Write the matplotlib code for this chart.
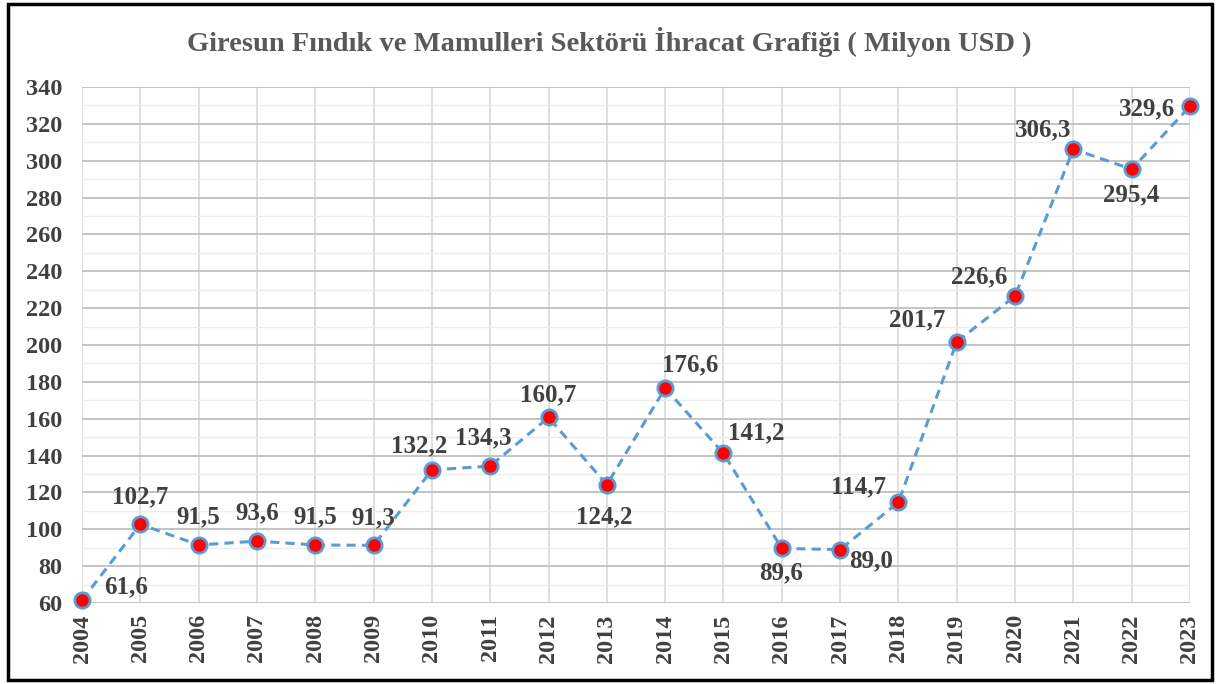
import matplotlib.pyplot as plt
from matplotlib.patches import Rectangle
from matplotlib.ticker import MultipleLocator

# Veriler
yillar = list(range(2004, 2024))
ihracat = [61.6, 102.7, 91.5, 93.6, 91.5, 91.3, 132.2, 134.3, 160.7, 124.2,
           176.6, 141.2, 89.6, 89.0, 114.7, 201.7, 226.6, 306.3, 295.4, 329.6]
etiketler = ['61,6', '102,7', '91,5', '93,6', '91,5', '91,3', '132,2', '134,3',
             '160,7', '124,2', '176,6', '141,2', '89,6', '89,0', '114,7',
             '201,7', '226,6', '306,3', '295,4', '329,6']

# Etiket kaydirmalari (piksel)
kaydirma = [(44, 13), (0, 28), (0, 28), (0, 28), (0, 28), (0, 28), (-13, 24),
            (-7, 28), (0, 23), (-3, -32), (25, 23), (33, 21), (-1, -24),
            (31, -11), (-40, 15), (-40, 22), (-36, 19), (-30, 19), (0, -26),
            (-43, -3)]

plt.rcParams['font.family'] = ['Liberation Serif', 'DejaVu Serif']
plt.rcParams['font.weight'] = 'bold'

fig = plt.figure(figsize=(12.19, 6.84), dpi=100)
ax = fig.add_axes([0.0673, 0.1184, 0.9089, 0.7544])

ax.plot(yillar, ihracat, linestyle=(0, (3, 2)), color='#5B9BD5', linewidth=2.2,
        marker='o', markersize=11, markerfacecolor='#FF0000',
        markeredgecolor='#5B9BD5', markeredgewidth=2, zorder=3, clip_on=False)

for x, y, t, (dx, dy) in zip(yillar, ihracat, etiketler, kaydirma):
    ax.annotate(t, (x, y), xytext=(dx, dy), textcoords='offset pixels',
                ha='center', va='center', fontsize=18, fontweight='bold',
                color='#404040', zorder=4)

ax.set_xlim(2004, 2023)
ax.set_ylim(60, 340)
ax.set_xticks(yillar)
ax.set_xticklabels([str(y) for y in yillar], rotation=90)
ax.yaxis.set_major_locator(MultipleLocator(20))
ax.yaxis.set_minor_locator(MultipleLocator(10))

ax.grid(which='major', axis='y', color='#BFBFBF', linewidth=1.3)
ax.grid(which='minor', axis='y', color='#EDEDED', linewidth=1.0)
ax.grid(which='major', axis='x', color='#D9D9D9', linewidth=1.2)
ax.set_axisbelow(True)

for s in ax.spines.values():
    s.set_visible(False)
ax.tick_params(which='both', length=0, labelsize=17.5, labelcolor='#404040')
ax.tick_params(axis='y', pad=14)
ax.tick_params(axis='x', pad=8)

fig.text(0.5, 0.939, 'Giresun Fındık ve Mamulleri Sektörü İhracat Grafiği ( Milyon USD )',
         ha='center', va='center', fontsize=20.5, fontweight='bold', color='#595959')

fig.patches.append(Rectangle((8 / 1219, 4 / 684), 1204 / 1219, 676 / 684,
                             transform=fig.transFigure, fill=False,
                             edgecolor='black', linewidth=2.5))

plt.savefig('out.png', dpi=100)
